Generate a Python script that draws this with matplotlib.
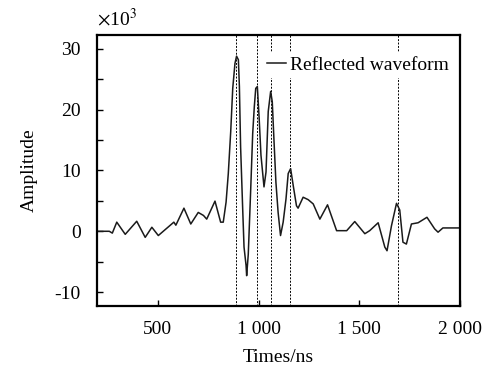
import numpy as np
import matplotlib
matplotlib.use('Agg')
import matplotlib.pyplot as plt
from matplotlib.ticker import MultipleLocator, FuncFormatter

plt.rcParams['font.family'] = ['Liberation Serif', 'DejaVu Serif']
plt.rcParams['font.size'] = 14
plt.rcParams['mathtext.fontset'] = 'stix'
plt.rcParams['axes.unicode_minus'] = False

# reflected waveform, time in ns, amplitude in units of 1e3
t = [205, 260, 275, 297, 339, 396, 438, 471, 503, 545, 580, 590, 630, 664, 701,
     727, 743, 784, 812, 825, 839, 850, 862, 872, 883, 891, 900, 905, 911, 921,
     928, 938, 941, 949, 961, 971, 979, 986, 994, 1003, 1012, 1027, 1037, 1048,
     1060, 1068, 1076, 1086, 1097, 1109, 1122, 1136, 1147, 1159, 1172, 1188,
     1196, 1221, 1246, 1271, 1304, 1342, 1387, 1437, 1477, 1527, 1551, 1593,
     1626, 1637, 1659, 1684, 1700, 1716, 1733, 1758, 1791, 1835, 1873, 1890,
     1914, 2000]
amp = [0.0, 0.0, -0.3, 1.5, -0.5, 1.65, -1.0, 0.66, -0.7, 0.5, 1.5, 1.0, 3.8,
       1.2, 3.1, 2.6, 2.0, 4.96, 1.5, 1.5, 4.8, 9.5, 16.4, 23.5, 27.6, 28.8,
       28.2, 23.8, 13.9, 4.0, -2.6, -5.6, -7.3, -3.8, 6.8, 16.1, 20.5, 23.5,
       23.8, 18.6, 12.5, 7.3, 9.75, 19.7, 23.0, 21.3, 15.3, 8.1, 3.1, -0.7,
       1.5, 5.3, 9.5, 10.3, 7.5, 4.2, 3.8, 5.6, 5.2, 4.5, 2.0, 4.35, 0.1, 0.1,
       1.6, -0.4, 0.1, 1.4, -2.6, -3.2, 0.9, 4.6, 3.5, -1.8, -2.1, 1.2, 1.4,
       2.3, 0.4, -0.15, 0.55, 0.55]

# reflection markers
marks = [890, 992, 1064, 1157, 1689]

fig, ax = plt.subplots(figsize=(4.86, 3.67), dpi=100)
fig.subplots_adjust(left=0.2, right=0.947, top=0.905, bottom=0.166)

ax.plot(t, amp, color='#1a1a1a', lw=1.1, label='Reflected waveform')
for m in marks:
    ax.axvline(m, color='black', lw=0.7, ls=(0, (2, 1.5)), zorder=1)

ax.set_xlim(200, 2000)
ax.set_ylim(-12.3, 32.3)
ax.xaxis.set_major_locator(MultipleLocator(500))
ax.yaxis.set_major_locator(MultipleLocator(10))
ax.yaxis.set_minor_locator(MultipleLocator(5))
ax.xaxis.set_major_formatter(FuncFormatter(lambda v, p: f'{int(v):,}'.replace(',', ' ')))
ax.tick_params(direction='in', length=4, width=1, top=False, right=False)
ax.tick_params(which='minor', direction='in', length=4, width=1)
ax.tick_params(axis='x', pad=11)
ax.tick_params(axis='y', pad=12)
for s in ax.spines.values():
    s.set_linewidth(1.6)

ax.set_xlabel('Times/ns', labelpad=8)
ax.set_ylabel('Amplitude', labelpad=12)
ax.text(0.0, 1.02, r'$\times$10$^3$', transform=ax.transAxes, ha='left', va='bottom')

leg = ax.legend(loc='center left', bbox_to_anchor=(0.43, 0.889), frameon=True,
                fancybox=False, edgecolor='none', facecolor='white', framealpha=1,
                handlelength=1.0, handletextpad=0.2, borderpad=0.2, fontsize=14)

fig.savefig('out.png', dpi=100)
